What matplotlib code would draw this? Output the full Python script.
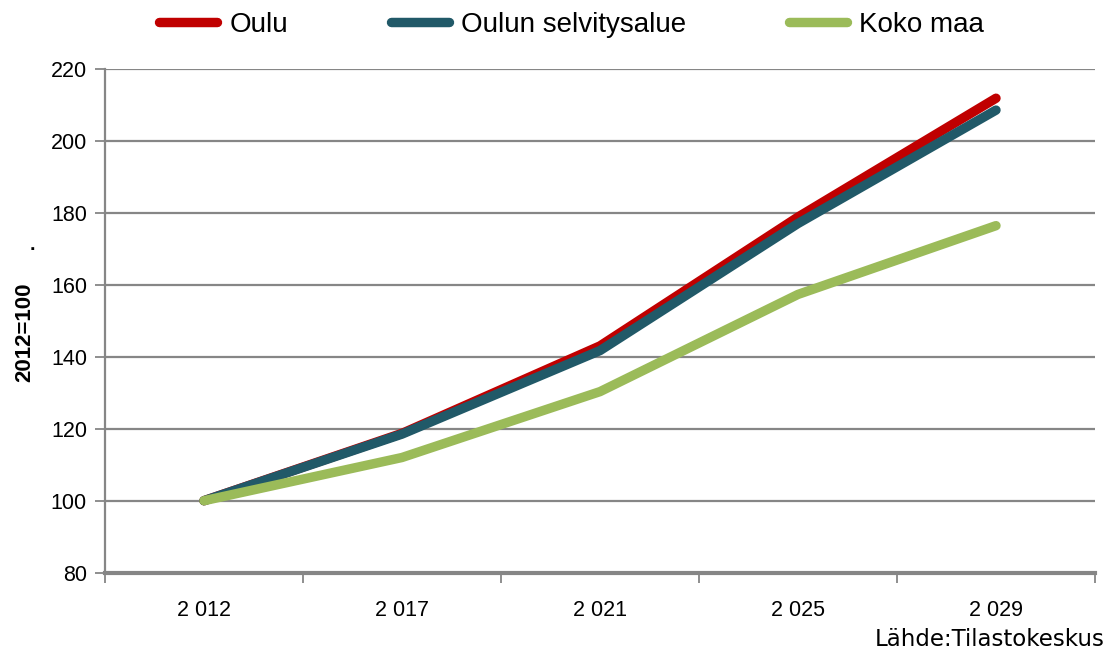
import numpy as np
import matplotlib
matplotlib.use("Agg")
from matplotlib import pyplot as plt

plt.rcParams['font.family'] = ['Liberation Sans', 'DejaVu Sans']

# data
years = ['2 012', '2 017', '2 021', '2 025', '2 029']
oulu = [100, 118.7, 143.0, 178.8, 211.8]
selvitysalue = [100, 118.5, 141.7, 177.0, 208.5]
koko_maa = [100, 112.0, 130.3, 157.3, 176.4]

grid_col = '#868686'
W, H = 1109, 654

fig = plt.figure(figsize=(W/100, H/100), dpi=100)
ax = fig.add_axes([105/W, 1 - 572.7/H, 990/W, (572.7 - 68.7)/H])

x = np.arange(len(years))
ax.plot(x, oulu, color='#C00000', lw=6.8, solid_capstyle='round', solid_joinstyle='round', label='Oulu', zorder=3)
ax.plot(x, selvitysalue, color='#215968', lw=6.8, solid_capstyle='round', solid_joinstyle='round', label='Oulun selvitysalue', zorder=4)
ax.plot(x, koko_maa, color='#9BBB59', lw=6.8, solid_capstyle='round', solid_joinstyle='round', label='Koko maa', zorder=5)

ax.set_xlim(-0.5, len(years) - 0.5)
ax.set_ylim(80, 220)
ax.set_yticks(np.arange(80, 221, 20))
ax.yaxis.grid(True, color=grid_col, lw=1.6)
ax.set_axisbelow(True)

# category boundaries as major ticks, labels on minor ticks
ax.set_xticks(np.arange(-0.5, len(years), 1.0))
ax.set_xticklabels([])
ax.set_xticks(x, minor=True)
ax.set_xticklabels(years, minor=True, fontsize=15.5)
ax.tick_params(axis='x', which='major', direction='out', length=7, color=grid_col, width=1.3)
ax.tick_params(axis='x', which='minor', length=0, pad=20)
ax.tick_params(axis='y', direction='out', length=7, color=grid_col, width=1.3, labelsize=15.5, pad=6)

for s in ['top', 'right']:
    ax.spines[s].set_visible(False)
ax.spines['left'].set_color(grid_col)
ax.spines['left'].set_linewidth(1.6)
ax.spines['bottom'].set_color(grid_col)
ax.spines['bottom'].set_linewidth(3)

fig.text(25/W, 1 - 332/H, '2012=100', fontsize=16, fontweight='bold', rotation=90, ha='center', va='center')
fig.text(32/W, 1 - 245/H, '.', fontsize=14, fontweight='bold', ha='center', va='center')

fig.legend(loc='center', bbox_to_anchor=(571.5/W, 1 - 25/H), ncol=3, frameon=False,
           fontsize=20, handlelength=2.1, handletextpad=0.43, columnspacing=3.7)

fig.text(1105/W, 1 - 640/H, 'Lähde:Tilastokeskus', fontsize=16.5, family='DejaVu Sans', ha='right', va='center')

fig.savefig('out.png', dpi=100)
